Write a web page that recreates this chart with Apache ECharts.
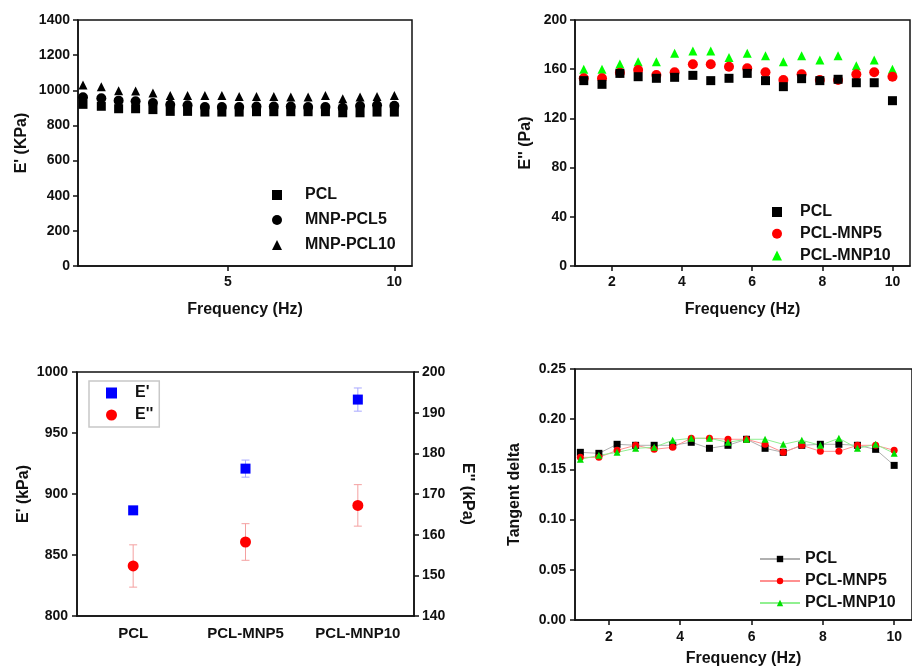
<!DOCTYPE html>
<html>
<head>
<meta charset="utf-8">
<title>Rheology of PCL / MNP-PCL</title>
<script src="https://cdn.jsdelivr.net/npm/echarts@6/dist/echarts.min.js"></script>
<style>
  html, body { margin: 0; padding: 0; background: #fff; }
  #chart { width: 912px; height: 668px; }
</style>
</head>
<body>
<div id="chart"></div>
<script>
// frequencies (Hz)
var freqA = [0.65, 1.2, 1.72, 2.23, 2.75, 3.27, 3.79, 4.31, 4.82, 5.34, 5.86, 6.38, 6.89, 7.41, 7.93, 8.45, 8.97, 9.48, 10.0];
var freqB = [1.2, 1.72, 2.23, 2.75, 3.27, 3.79, 4.31, 4.82, 5.34, 5.86, 6.38, 6.89, 7.41, 7.93, 8.45, 8.97, 9.48, 10.0];

// panel a: E' (KPa)
var storPCL = [920, 909, 895, 895, 890, 880, 880, 876, 876, 876, 878, 878, 878, 878, 878, 872, 872, 876, 876];
var storMNP5 = [960, 955, 941, 937, 928, 918, 915, 905, 905, 905, 908, 908, 908, 905, 905, 900, 910, 915, 912];
var storMNP10 = [1030, 1020, 998, 996, 985, 971, 971, 970, 970, 965, 965, 965, 962, 962, 970, 952, 962, 965, 970];

// panel b: E'' (Pa)
var lossPCL = [150.7, 147.7, 156.6, 153.9, 152.6, 153.4, 155.0, 150.7, 152.6, 156.6, 150.7, 145.8, 152.3, 150.7, 151.8, 149.0, 149.0, 134.4];
var lossMNP5 = [152.6, 152.6, 157.2, 159.3, 155.3, 157.5, 164.0, 164.0, 162.0, 160.7, 157.5, 151.2, 155.8, 151.2, 151.2, 155.8, 157.5, 153.9];
var lossMNP10 = [159.9, 159.9, 164.2, 166.1, 166.1, 172.9, 174.8, 174.8, 169.6, 172.9, 171.0, 166.1, 171.0, 167.5, 171.0, 162.9, 167.5, 159.9];

// panel c: means with error
var samples = ['PCL', 'PCL-MNP5', 'PCL-MNP10'];
var eStor = [886.6, 920.8, 977.4];
var eStorErr = [1, 7, 9.5];
var eLoss = [152.3, 158.2, 167.2];
var eLossErr = [5.2, 4.5, 5.1];

// panel d: tangent delta
var tanPCL = [0.167, 0.166, 0.175, 0.174, 0.174, 0.174, 0.177, 0.171, 0.174, 0.180, 0.171, 0.167, 0.174, 0.175, 0.175, 0.174, 0.170, 0.154];
var tanMNP5 = [0.162, 0.162, 0.169, 0.174, 0.170, 0.172, 0.181, 0.181, 0.180, 0.180, 0.175, 0.167, 0.174, 0.168, 0.168, 0.174, 0.174, 0.169];
var tanMNP10 = [0.160, 0.164, 0.167, 0.171, 0.172, 0.179, 0.181, 0.181, 0.177, 0.180, 0.180, 0.175, 0.179, 0.174, 0.181, 0.171, 0.175, 0.166];

var FONT = 'Liberation Sans, Arial, sans-serif';
var INK = '#111';

function pairs(xs, ys) {
  return ys.map(function (y, i) { return [xs[i], y]; });
}

function bars(vals, errs) {
  return vals.map(function (v, i) { return [i, v - errs[i], v + errs[i]]; });
}

function errorBar(color) {
  return function (params, api) {
    var x = api.value(0);
    var lo = api.coord([x, api.value(1)]);
    var hi = api.coord([x, api.value(2)]);
    var w = 4;
    var st = { stroke: color, lineWidth: 1 };
    return {
      type: 'group',
      children: [
        { type: 'line', shape: { x1: lo[0], y1: lo[1], x2: hi[0], y2: hi[1] }, style: st },
        { type: 'line', shape: { x1: lo[0] - w, y1: lo[1], x2: lo[0] + w, y2: lo[1] }, style: st },
        { type: 'line', shape: { x1: hi[0] - w, y1: hi[1], x2: hi[0] + w, y2: hi[1] }, style: st }
      ]
    };
  };
}

var labelStyle = { color: INK, fontFamily: FONT, fontWeight: 'bold', fontSize: 14 };
var nameStyle = { color: INK, fontFamily: FONT, fontWeight: 'bold', fontSize: 16 };
function legendText(pad) {
  return { color: INK, fontFamily: FONT, fontWeight: 'bold', fontSize: 16, padding: [0, 0, 0, pad] };
}

function plain(v) { return String(v); }

function valAxis(grid, o) {
  var ax = {
    type: 'value',
    gridIndex: grid,
    nameLocation: 'middle',
    nameTextStyle: nameStyle,
    axisLine: { show: true, onZero: false, lineStyle: { color: INK, width: 1.5 } },
    axisTick: { show: true, length: 5, lineStyle: { color: INK, width: 1.5 } },
    axisLabel: Object.assign({ margin: 8, formatter: plain }, labelStyle),
    splitLine: { show: false }
  };
  for (var k in o) {
    if (k === 'axisLabel' || k === 'axisTick') Object.assign(ax[k], o[k]);
    else ax[k] = o[k];
  }
  return ax;
}

function strip(n) { return n.split('#')[0]; }

var chart = echarts.init(document.getElementById('chart'));

var option = {
  animation: false,
  backgroundColor: '#fff',
  grid: [
    { left: 78, top: 20, width: 334, height: 246, show: true, borderColor: INK, borderWidth: 1.5 },
    { left: 575, top: 20, width: 335, height: 246, show: true, borderColor: INK, borderWidth: 1.5 },
    { left: 77, top: 372, width: 337, height: 244, show: true, borderColor: INK, borderWidth: 1.5 },
    { left: 575, top: 369, right: -8, height: 251, show: true, borderColor: INK, borderWidth: 1.5 }
  ],
  xAxis: [
    valAxis(0, { min: 0.5, max: 10.53, name: 'Frequency (Hz)', nameGap: 36,
      axisTick: { customValues: [5, 10] }, axisLabel: { customValues: [5, 10], margin: 9 } }),
    valAxis(1, { min: 0.95, max: 10.5, name: 'Frequency (Hz)', nameGap: 36,
      axisTick: { customValues: [2, 4, 6, 8, 10] }, axisLabel: { customValues: [2, 4, 6, 8, 10], margin: 9 } }),
    {
      type: 'category', gridIndex: 2, data: samples,
      axisLine: { lineStyle: { color: INK, width: 1.5 } },
      axisTick: { alignWithLabel: true, length: 5, lineStyle: { color: INK, width: 1.5 } },
      axisLabel: { interval: 0, margin: 10, fontSize: 15, color: INK, fontFamily: FONT, fontWeight: 'bold' }
    },
    valAxis(3, { min: 1.05, max: 10.5, name: 'Frequency (Hz)', nameGap: 31,
      axisTick: { customValues: [2, 4, 6, 8, 10] }, axisLabel: { customValues: [2, 4, 6, 8, 10], margin: 10 } })
  ],
  yAxis: [
    valAxis(0, { min: 0, max: 1400, interval: 200, name: "E' (KPa)", nameGap: 48 }),
    valAxis(1, { min: 0, max: 200, interval: 40, name: "E'' (Pa)", nameGap: 41 }),
    valAxis(2, { min: 800, max: 1000, interval: 50, name: "E' (kPa)", nameGap: 45, axisLabel: { margin: 9 } }),
    valAxis(2, { min: 140, max: 200, interval: 10, position: 'right', name: "E'' (kPa)", nameGap: 45, nameRotate: -90 }),
    valAxis(3, { min: 0, max: 0.25, interval: 0.05, name: 'Tangent delta', nameGap: 52,
      axisLabel: { margin: 9, formatter: function (v) { return v.toFixed(2); } } })
  ],
  legend: [
    {
      orient: 'vertical', left: 267, top: 182, itemWidth: 10, itemHeight: 10, itemGap: 9,
      textStyle: legendText(18), formatter: strip,
      data: ['PCL#a', 'MNP-PCL5#a', 'MNP-PCL10#a']
    },
    {
      orient: 'vertical', left: 767, top: 199, itemWidth: 10, itemHeight: 10, itemGap: 5.7,
      textStyle: legendText(13), formatter: strip,
      data: ['PCL#b', 'PCL-MNP5#b', 'PCL-MNP10#b']
    },
    {
      orient: 'vertical', left: 89, top: 381, itemWidth: 11, itemHeight: 11, itemGap: 6,
      padding: [4, 6, 4, 17], borderColor: '#c8c8c8', borderWidth: 1.5, backgroundColor: '#fff',
      textStyle: legendText(13), formatter: strip,
      data: ["E'#c", "E''#c"]
    },
    {
      orient: 'vertical', left: 754, top: 546, itemWidth: 40, itemHeight: 8, itemGap: 6,
      textStyle: legendText(0), formatter: strip,
      data: ['PCL#d', 'PCL-MNP5#d', 'PCL-MNP10#d']
    }
  ],
  series: [
    // panel a
    { name: 'PCL#a', type: 'scatter', xAxisIndex: 0, yAxisIndex: 0, symbol: 'rect', symbolSize: 9,
      itemStyle: { color: '#000', opacity: 1 }, data: pairs(freqA, storPCL) },
    { name: 'MNP-PCL5#a', type: 'scatter', xAxisIndex: 0, yAxisIndex: 0, symbol: 'circle', symbolSize: 10,
      itemStyle: { color: '#000', opacity: 1 }, data: pairs(freqA, storMNP5) },
    { name: 'MNP-PCL10#a', type: 'scatter', xAxisIndex: 0, yAxisIndex: 0, symbol: 'triangle', symbolSize: 9,
      itemStyle: { color: '#000', opacity: 1 }, data: pairs(freqA, storMNP10) },
    // panel b
    { name: 'PCL#b', type: 'scatter', xAxisIndex: 1, yAxisIndex: 1, symbol: 'rect', symbolSize: 9,
      itemStyle: { color: '#000', opacity: 1 }, data: pairs(freqB, lossPCL), z: 4 },
    { name: 'PCL-MNP5#b', type: 'scatter', xAxisIndex: 1, yAxisIndex: 1, symbol: 'circle', symbolSize: 10,
      itemStyle: { color: '#ff0000', opacity: 1 }, data: pairs(freqB, lossMNP5), z: 3 },
    { name: 'PCL-MNP10#b', type: 'scatter', xAxisIndex: 1, yAxisIndex: 1, symbol: 'triangle', symbolSize: 9,
      itemStyle: { color: '#00ff00', opacity: 1 }, data: pairs(freqB, lossMNP10), z: 2 },
    // panel c
    { type: 'custom', xAxisIndex: 2, yAxisIndex: 2, renderItem: errorBar('#a8a8ff'),
      encode: { x: 0, y: [1, 2] }, data: bars(eStor, eStorErr), z: 1 },
    { type: 'custom', xAxisIndex: 2, yAxisIndex: 3, renderItem: errorBar('#f4a0a0'),
      encode: { x: 0, y: [1, 2] }, data: bars(eLoss, eLossErr), z: 1 },
    { name: "E'#c", type: 'scatter', xAxisIndex: 2, yAxisIndex: 2, symbol: 'rect', symbolSize: 10,
      itemStyle: { color: '#0000ff', opacity: 1 }, data: eStor, z: 3 },
    { name: "E''#c", type: 'scatter', xAxisIndex: 2, yAxisIndex: 3, symbol: 'circle', symbolSize: 11,
      itemStyle: { color: '#ff0000', opacity: 1 }, data: eLoss, z: 3 },
    // panel d
    { name: 'PCL#d', type: 'line', xAxisIndex: 3, yAxisIndex: 4, symbol: 'rect', symbolSize: 7,
      itemStyle: { color: '#000' }, lineStyle: { color: '#b0b0b0', width: 1 }, data: pairs(freqB, tanPCL) },
    { name: 'PCL-MNP5#d', type: 'line', xAxisIndex: 3, yAxisIndex: 4, symbol: 'circle', symbolSize: 7,
      itemStyle: { color: '#ff0000' }, lineStyle: { color: '#ff9090', width: 1 }, data: pairs(freqB, tanMNP5) },
    { name: 'PCL-MNP10#d', type: 'line', xAxisIndex: 3, yAxisIndex: 4, symbol: 'triangle', symbolSize: 7,
      itemStyle: { color: '#00e000' }, lineStyle: { color: '#90f090', width: 1 }, data: pairs(freqB, tanMNP10) }
  ]
};

chart.setOption(option);
</script>
</body>
</html>
